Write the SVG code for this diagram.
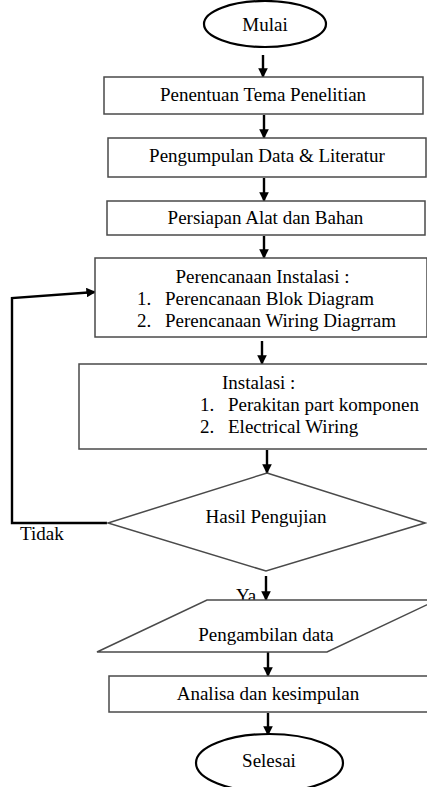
<svg xmlns="http://www.w3.org/2000/svg" width="427" height="787" viewBox="0 0 427 787">
<defs>
<marker id="ah" markerWidth="4" markerHeight="4" refX="3.6" refY="2" orient="auto" markerUnits="strokeWidth">
<path d="M0,0 L4,2 L0,4 z" fill="#000"/>
</marker>
<style>
text{font-family:"Liberation Serif","Times New Roman",serif;font-size:19px;fill:#000}
.c{text-anchor:middle}
.box{fill:#fff;stroke:#4a4a4a;stroke-width:1.5}
.term{fill:#fff;stroke:#000;stroke-width:2.2}
.arr{fill:none;stroke:#000;stroke-width:2.4;marker-end:url(#ah)}
</style>
</defs>
<rect width="427" height="787" fill="#fff"/>
<g id="connectors">
<line class="arr" x1="263" y1="55" x2="263" y2="77"/>
<line class="arr" x1="264" y1="115" x2="264" y2="138"/>
<line class="arr" x1="264" y1="178" x2="264" y2="201"/>
<line class="arr" x1="264" y1="236" x2="264" y2="258"/>
<line class="arr" x1="262" y1="341" x2="262" y2="364"/>
<line class="arr" x1="267" y1="450" x2="267" y2="473"/>
<polyline class="arr" points="107,523 12,523 12,298 95,292"/>
<line class="arr" x1="266" y1="576" x2="266" y2="600"/>
<line class="arr" x1="268" y1="652" x2="268" y2="676"/>
<line class="arr" x1="268" y1="713" x2="268" y2="735"/>
</g>
<g id="mulai">
<ellipse class="term" cx="265" cy="24" rx="61" ry="23"/>
<text class="c" x="265" y="31">Mulai</text>
</g>
<g id="penentuan">
<rect class="box" x="104" y="77" width="319" height="37"/>
<text class="c" x="263" y="101">Penentuan Tema Penelitian</text>
</g>
<g id="pengumpulan">
<rect class="box" x="108" y="138" width="318" height="39"/>
<text class="c" x="267" y="162">Pengumpulan Data &amp; Literatur</text>
</g>
<g id="persiapan">
<rect class="box" x="107" y="201" width="318" height="34"/>
<text class="c" x="265.5" y="224">Persiapan Alat dan Bahan</text>
</g>
<g id="perencanaan">
<rect class="box" x="95" y="258" width="332" height="79"/>
<text class="c" x="262.5" y="283">Perencanaan Instalasi :</text>
<text x="137" y="305">1.</text>
<text x="165" y="305">Perencanaan Blok Diagram</text>
<text x="137" y="327">2.</text>
<text x="165" y="327">Perencanaan Wiring Diagrram</text>
</g>
<g id="instalasi">
<rect class="box" x="79" y="364" width="349" height="85"/>
<text x="222" y="389">Instalasi :</text>
<text x="200" y="411">1.</text>
<text x="228" y="411">Perakitan part komponen</text>
<text x="200" y="433">2.</text>
<text x="228" y="433">Electrical Wiring</text>
</g>
<g id="hasil">
<polygon class="box" points="267,473 425,523 266,571 108,523"/>
<text class="c" x="266" y="523">Hasil Pengujian</text>
</g>
<g id="labels">
<text x="20" y="540">Tidak</text>
<text x="236" y="602">Ya</text>
</g>
<g id="pengambilan">
<polygon class="box" points="207,600 437,600 327,652 97,652"/>
<text class="c" x="266" y="641">Pengambilan data</text>
</g>
<g id="analisa">
<rect class="box" x="109" y="676" width="319" height="36"/>
<text class="c" x="268" y="700">Analisa dan kesimpulan</text>
</g>
<g id="selesai">
<ellipse class="term" cx="269.5" cy="763" rx="73.5" ry="29"/>
<text class="c" x="269" y="767">Selesai</text>
</g>
</svg>
